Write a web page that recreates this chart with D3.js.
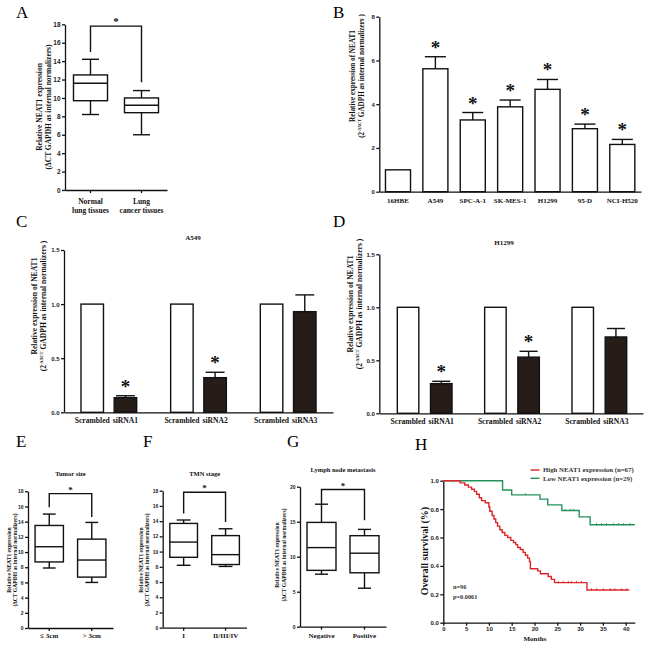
<!DOCTYPE html>
<html><head><meta charset="utf-8">
<script src="https://cdn.jsdelivr.net/npm/d3@7"></script>
<style>body{margin:0;background:#fff}</style>
</head><body>
<script>
// ================= DATA =================
// Panel A
const boxA_labels = [["Normal", "lung tissues"], ["Lung", "cancer tissues"]];
const boxA_stats = [[8.2, 9.7, 11.6, 12.5, 14.2], [6.0, 8.4, 9.2, 10.0, 10.8]]; // min,q1,med,q3,max
const boxA_bracket = [15.0, 17.8, 11.7];
const boxA_ticks = [0, 2, 4, 6, 8, 10, 12, 14, 16, 18];

// Panel B
const cellLines = ["16HBE", "A549", "SPC-A-1", "SK-MES-1", "H1299", "95-D", "NCI-H520"];
const cellMeans = [1.0, 5.62, 3.28, 3.88, 4.68, 2.88, 2.16];
const cellErrs = [0, 0.55, 0.34, 0.31, 0.45, 0.21, 0.23];
const cellStars = [0, 1, 1, 1, 1, 1, 1];
const cellTicks = [0, 2, 4, 6, 8];

// Panels C, D
const siGroups = ["1", "2", "3"];
const siScrLabel = "Scrambled";
const siLabels = ["siRNA1", "siRNA2", "siRNA3"];
const a549Scr = [1, 1, 1];
const a549Si = [0.135, 0.32, 0.93];
const a549SiErr = [0.018, 0.05, 0.155];
const a549Stars = [1, 1, 0];
const h1299Scr = [1, 1, 1];
const h1299Si = [0.28, 0.53, 0.72];
const h1299SiErr = [0.022, 0.055, 0.08];
const h1299Stars = [1, 1, 0];
const siTicks = [0, 0.5, 1.0, 1.5];

// Panel E
const tumorLabels = ["\u2264 3cm", "> 3cm"];
const tumorStats = [[7.9, 8.7, 10.7, 13.5, 15.0], [6.0, 6.7, 8.95, 11.7, 13.9]];
const tumorBracket = [15.9, 17.7, 14.6];
const tumorTicks = [0, 2, 4, 6, 8, 10, 12, 14, 16, 18];
// Panel F
const tmnLabels = ["I", "II/III/IV"];
const tmnStats = [[8.2, 9.25, 11.25, 13.7, 14.15], [8.05, 8.3, 9.6, 12.1, 13.0]];
const tmnBracket = [15.0, 17.8, 13.9];
const tmnTicks = [0, 2, 4, 6, 8, 10, 12, 14, 16, 18];
// Panel G
const lymphLabels = ["Negative", "Positive"];
const lymphStats = [[7.5, 8.05, 11.3, 14.9, 17.5], [5.5, 7.7, 10.5, 13.0, 13.9]];
const lymphBracket = [17.5, 19.6, 15.2];
const lymphTicks = [0, 5, 10, 15, 20];

// Panel H (Kaplan-Meier steps: time in months, survival after the step)
const highTimes = [0, 3.7, 4.7, 5.5, 6.2, 6.8, 7.3, 7.9, 8.4, 9.2, 10.0, 10.2, 10.7, 11.1, 11.5, 11.9, 12.4, 12.9, 13.5, 14.1, 14.8, 15.4, 15.9, 16.3, 16.9, 17.5, 18.0, 18.5, 18.9, 19.1, 20.7, 21.3, 23.0, 23.7, 24.4, 31.5, 40.8];
const highSurv  = [1, 0.985, 0.97, 0.955, 0.94, 0.925, 0.905, 0.88, 0.86, 0.845, 0.815, 0.785, 0.755, 0.73, 0.705, 0.68, 0.655, 0.635, 0.615, 0.60, 0.58, 0.565, 0.55, 0.53, 0.515, 0.495, 0.475, 0.455, 0.43, 0.38, 0.365, 0.345, 0.325, 0.305, 0.282, 0.23, 0.23];
const highCensor = [25.2, 26.3, 27.4, 28.1, 29.2, 30.3, 32.5, 33.6, 35.1, 36.6, 37.6, 39.1, 40.2];
const lowTimes = [0, 13.0, 15.0, 21.2, 22.9, 26.0, 29.8, 32.2, 42.0];
const lowSurv  = [1, 0.935, 0.90, 0.87, 0.83, 0.79, 0.745, 0.69, 0.69];
const lowCensor = [18.0, 26.7, 27.8, 28.5, 33.6, 34.7, 35.8, 37.3, 38.4, 39.5, 40.9];
const kmTicksX = [0, 5, 10, 15, 20, 25, 30, 35, 40];
const kmTicksY = [0, 0.2, 0.4, 0.6, 0.8, 1.0];
const kmLegend = ["High NEAT1 expression (n=67)", "Low NEAT1 expression (n=29)"];
const kmColors = ["#d9262a", "#23925a"];

// ================= DRAWING =================
const SERIF = "'Liberation Serif','Times New Roman',serif";
const SANS = "'Liberation Sans',Arial,sans-serif";
const svg = d3.select("body").append("svg").attr("width", 648).attr("height", 648)
  .style("background", "#fff");

function txt(g, x, y, s, o = {}) {
  const t = g.append("text").attr("x", x).attr("y", y).text(s)
    .attr("font-family", o.family || SERIF)
    .attr("font-size", o.size || 8)
    .attr("font-weight", o.weight || "bold")
    .attr("text-anchor", o.anchor || "middle")
    .attr("fill", o.fill || "#111");
  if (o.rotate) t.attr("transform", `rotate(${o.rotate},${x},${y})`);
  return t;
}

function yAxis(g, scale, x, ticks, fmt, size) {
  const ax = d3.axisLeft(scale).tickValues(ticks).tickFormat(fmt).tickSize(3).tickSizeOuter(0).tickPadding(1.5);
  const a = g.append("g").attr("transform", `translate(${x},0)`).call(ax);
  a.selectAll("path,line").attr("stroke", "#111").attr("stroke-width", 1.3);
  a.selectAll("text").attr("font-family", SANS).attr("font-weight", "bold").attr("font-size", size).attr("fill", "#222");
  return a;
}
function xAxis(g, scale, y, tickLen) {
  const ax = d3.axisBottom(scale).tickSize(tickLen).tickSizeOuter(0).tickFormat("");
  const a = g.append("g").attr("transform", `translate(0,${y})`).call(ax);
  a.selectAll("path,line").attr("stroke", "#111").attr("stroke-width", 1.3);
  return a;
}

function panelLetter(x, y, s) {
  txt(svg, x, y, s, { size: 17, weight: "normal", anchor: "start", fill: "#000" });
}

function twoLineYLabel(g, x1, x2, yc, l1, l2, size, superscript) {
  txt(g, x1, yc, l1, { size, rotate: -90 });
  if (!superscript) {
    txt(g, x2, yc, l2, { size, rotate: -90 });
  } else {
    const t = g.append("text").attr("x", x2).attr("y", yc)
      .attr("font-family", SERIF).attr("font-weight", "bold").attr("font-size", size)
      .attr("text-anchor", "middle").attr("fill", "#111")
      .attr("transform", `rotate(-90,${x2},${yc})`);
    t.append("tspan").text("(2");
    t.append("tspan").text("-\u0394\u0394CT").attr("font-size", size * 0.6).attr("dy", -size * 0.4);
    t.append("tspan").text(l2).attr("dy", size * 0.4);
  }
}

// ---------- Box plot panels ----------
function boxPanel(o) {
  const g = svg.append("g");
  const y = d3.scaleLinear([0, o.yMax], [o.y0, o.y1]);
  const x = d3.scaleBand().domain(d3.range(o.stats.length)).range(o.xr)
    .paddingInner(o.pad).paddingOuter(o.pad / 2);
  const bw = x.bandwidth();
  yAxis(g, y, o.xr[0], o.ticks, d3.format("d"), o.tickSize);
  xAxis(g, x, o.y0, 3);
  o.stats.forEach((s, i) => {
    const cx = x(i) + bw / 2;
    const cap = bw * o.capFrac / 2;
    const st = { stroke: "#111", sw: 1.4 };
    const line = (x1, y1, x2, y2) => g.append("line").attr("x1", x1).attr("y1", y1).attr("x2", x2).attr("y2", y2)
      .attr("stroke", st.stroke).attr("stroke-width", st.sw);
    line(cx, y(s[0]), cx, y(s[1]));
    line(cx, y(s[3]), cx, y(s[4]));
    line(cx - cap, y(s[0]), cx + cap, y(s[0]));
    line(cx - cap, y(s[4]), cx + cap, y(s[4]));
    g.append("rect").attr("x", x(i)).attr("y", y(s[3])).attr("width", bw).attr("height", y(s[1]) - y(s[3]))
      .attr("fill", "#fff").attr("stroke", "#111").attr("stroke-width", 1.4);
    line(x(i), y(s[2]), x(i) + bw, y(s[2]));
    o.labels[i].forEach((l, k) => txt(g, cx, o.labelY + k * o.labelSize * 1.25, l, { size: o.labelSize }));
  });
  const c0 = x(0) + bw / 2, c1 = x(1) + bw / 2;
  g.append("path").attr("d", `M${c0},${y(o.bracket[0])}V${y(o.bracket[1])}H${c1}V${y(o.bracket[2])}`)
    .attr("fill", "none").attr("stroke", "#111").attr("stroke-width", 1.4);
  txt(g, (c0 + c1) / 2, y(o.bracket[1]) - o.starGap, "*", { size: o.starSize });
  if (o.title) txt(g, (o.xr[0] + o.xr[1]) / 2, o.titleY, o.title, { size: o.titleSize });
  twoLineYLabel(g, o.ylx[0], o.ylx[1], o.ylc, "Relative NEAT1 expression", "(\u0394CT GAPDH as internal normalizers)", o.ylSize);
}

// A
panelLetter(16, 18, "A");
boxPanel({ stats: boxA_stats, labels: boxA_labels, bracket: boxA_bracket, ticks: boxA_ticks, yMax: 18,
  y0: 190, y1: 24.3, xr: [65, 167], pad: 0.333, capFrac: 0.5, tickSize: 6.5,
  labelY: 204, labelSize: 7.5, starSize: 11, starGap: 1.5, ylx: [42, 51], ylc: 107, ylSize: 7.5 });

// E
panelLetter(16, 447, "E");
boxPanel({ stats: tumorStats, labels: tumorLabels.map(d => [d]), bracket: tumorBracket, ticks: tumorTicks, yMax: 18,
  y0: 628, y1: 491.3, xr: [28, 113], pad: 0.333, capFrac: 0.45, tickSize: 5,
  labelY: 638, labelSize: 7, starSize: 9, starGap: 1, title: "Tumor size", titleY: 476, titleSize: 6.5,
  ylx: [11, 17], ylc: 560, ylSize: 5.6 });

// F
panelLetter(143, 447, "F");
boxPanel({ stats: tmnStats, labels: tmnLabels.map(d => [d]), bracket: tmnBracket, ticks: tmnTicks, yMax: 18,
  y0: 627.7, y1: 490.7, xr: [162.7, 246.5], pad: 0.34, capFrac: 0.5, tickSize: 5,
  labelY: 638, labelSize: 7, starSize: 9, starGap: 1, title: "TMN stage", titleY: 476, titleSize: 6.5,
  ylx: [143, 149], ylc: 560, ylSize: 5.6 });

// G
panelLetter(287, 447, "G");
boxPanel({ stats: lymphStats, labels: lymphLabels.map(d => [d]), bracket: lymphBracket, ticks: lymphTicks, yMax: 20,
  y0: 626.7, y1: 486.7, xr: [300, 386], pad: 0.326, capFrac: 0.45, tickSize: 5,
  labelY: 638, labelSize: 7, starSize: 9, starGap: 1, title: "Lymph node metastasis", titleY: 472, titleSize: 6.5,
  ylx: [279, 285.5], ylc: 555, ylSize: 5.6 });

// ---------- B ----------
(function () {
  panelLetter(333, 18, "B");
  const g = svg.append("g");
  const y = d3.scaleLinear([0, 8], [191.7, 16.7]);
  const x = d3.scaleBand().domain(cellLines).range([379.3, 641]).paddingInner(0.33).paddingOuter(0.165);
  const bw = x.bandwidth();
  yAxis(g, y, 379.3, cellTicks, d3.format("d"), 6);
  g.selectAll(".bar").data(cellLines).enter().append("rect")
    .attr("x", d => x(d)).attr("y", (d, i) => y(cellMeans[i])).attr("width", bw)
    .attr("height", (d, i) => y(0) - y(cellMeans[i]))
    .attr("fill", "#fff").attr("stroke", "#111").attr("stroke-width", 1.4);
  cellLines.forEach((c, i) => {
    const cx = x(c) + bw / 2;
    if (cellErrs[i] > 0) {
      const top = y(cellMeans[i] + cellErrs[i]);
      g.append("line").attr("x1", cx).attr("x2", cx).attr("y1", y(cellMeans[i])).attr("y2", top).attr("stroke", "#111").attr("stroke-width", 1.4);
      g.append("line").attr("x1", cx - bw * 0.42).attr("x2", cx + bw * 0.42).attr("y1", top).attr("y2", top).attr("stroke", "#111").attr("stroke-width", 1.4);
    }
    if (cellStars[i]) txt(g, cx, y(cellMeans[i] + cellErrs[i]) - 3, "*", { size: 19 });
    txt(g, cx, 203, c, { size: 7 });
  });
  xAxis(g, x, 191.7, 0);
  twoLineYLabel(g, 355, 364, 76, "Relative expression of NEAT1", " GADPH as internal normalizers )", 7.2, true);
})();

// ---------- C & D ----------
function siPanel(o) {
  const g = svg.append("g");
  const y = d3.scaleLinear([0, 1.5], [o.y0, o.y1]);
  const xg = d3.scaleBand().domain(siGroups).range(o.xr).padding(0);
  const half = o.off + o.barW / 2;
  const xi = d3.scaleBand().domain(["scr", "si"])
    .range([xg.bandwidth() / 2 - half, xg.bandwidth() / 2 + half])
    .paddingInner((2 * o.off - o.barW) / (2 * o.off)).paddingOuter(0);
  const bw = xi.bandwidth();
  yAxis(g, y, o.yAxisX, siTicks, d3.format(".1f"), 6);
  siGroups.forEach((grp, i) => {
    const xs = xg(grp) + xi("scr"), xsi = xg(grp) + xi("si");
    g.append("rect").attr("x", xs).attr("y", y(o.scr[i])).attr("width", bw).attr("height", y(0) - y(o.scr[i]))
      .attr("fill", "#fff").attr("stroke", "#111").attr("stroke-width", 1.4);
    const top = y(o.si[i] + o.err[i]);
    const cx = xsi + bw / 2;
    g.append("line").attr("x1", cx).attr("x2", cx).attr("y1", y(o.si[i])).attr("y2", top).attr("stroke", "#111").attr("stroke-width", 1.4);
    g.append("line").attr("x1", cx - bw * 0.42).attr("x2", cx + bw * 0.42).attr("y1", top).attr("y2", top).attr("stroke", "#111").attr("stroke-width", 1.4);
    g.append("rect").attr("x", xsi).attr("y", y(o.si[i])).attr("width", bw).attr("height", y(0) - y(o.si[i]))
      .attr("fill", "#261c18").attr("stroke", "#111").attr("stroke-width", 1.4);
    if (o.stars[i]) txt(g, cx, top - 3, "*", { size: 19 });
    txt(g, xs + bw / 2, o.y0 + 11, siScrLabel, { size: 7.6 });
    txt(g, cx, o.y0 + 11, siLabels[i], { size: 7.6 });
  });
  const ax = d3.axisBottom(d3.scaleLinear([0, 1], [o.yAxisX, o.xEnd])).tickValues([]).tickSizeOuter(0);
  g.append("g").attr("transform", `translate(0,${o.y0})`).call(ax).selectAll("path").attr("stroke", "#111").attr("stroke-width", 1.3);
  txt(g, o.titleX, o.titleY, o.title, { size: 7 });
  twoLineYLabel(g, o.ylx[0], o.ylx[1], o.ylc, "Relative expression of NEAT1", " GADPH as internal normalizers )", 7.6, true);
}
panelLetter(16, 227, "C");
siPanel({ y0: 412.3, y1: 250, xr: [64, 333], yAxisX: 64, xEnd: 333, barW: 22.5, off: 16.6,
  scr: a549Scr, si: a549Si, err: a549SiErr, stars: a549Stars, title: "A549", titleX: 193, titleY: 240,
  ylx: [37, 46], ylc: 306 });
panelLetter(333, 227, "D");
siPanel({ y0: 413.3, y1: 254.3, xr: [381, 643], yAxisX: 379.3, xEnd: 643, barW: 21.5, off: 16.6,
  scr: h1299Scr, si: h1299Si, err: h1299SiErr, stars: h1299Stars, title: "H1299", titleX: 504, titleY: 245,
  ylx: [353, 362], ylc: 304 });

// ---------- H ----------
(function () {
  panelLetter(415, 450, "H");
  const g = svg.append("g");
  const x = d3.scaleLinear([0, 40], [443.3, 625.7]);
  const y = d3.scaleLinear([0, 1], [622.7, 480.7]);
  const axY = d3.axisLeft(y).tickValues(kmTicksY).tickFormat(d3.format(".1f")).tickSize(3).tickSizeOuter(0).tickPadding(1.5);
  const ay = g.append("g").attr("transform", `translate(${x(0)},0)`).call(axY);
  const axX = d3.axisBottom(d3.scaleLinear([0, 42], [443.3, x(42)])).tickValues(kmTicksX).tickSize(3).tickSizeOuter(0).tickPadding(1);
  const ax = g.append("g").attr("transform", `translate(0,${y(0)})`).call(axX);
  [ay, ax].forEach(a => {
    a.selectAll("path,line").attr("stroke", "#111").attr("stroke-width", 1.3);
    a.selectAll("text").attr("font-family", SANS).attr("font-weight", "bold").attr("font-size", 6).attr("fill", "#222");
  });
  const line = d3.line().x(d => x(d[0])).y(d => y(d[1])).curve(d3.curveStepAfter);
  const series = [[lowTimes, lowSurv, lowCensor], [highTimes, highSurv, highCensor]];
  const colors = [kmColors[1], kmColors[0]];
  series.forEach(([t, s, c], k) => {
    const pts = t.map((d, i) => [d, s[i]]);
    g.append("path").attr("d", line(pts)).attr("fill", "none").attr("stroke", colors[k]).attr("stroke-width", 1.4);
    c.forEach(ct => {
      let v = s[0];
      t.forEach((tt, i) => { if (tt <= ct) v = s[i]; });
      g.append("line").attr("x1", x(ct)).attr("x2", x(ct)).attr("y1", y(v) - 1.8).attr("y2", y(v) + 0.5)
        .attr("stroke", colors[k]).attr("stroke-width", 0.8);
    });
  });
  // legend
  kmLegend.forEach((l, i) => {
    const ly = 470 + i * 8.3;
    g.append("line").attr("x1", 530.5).attr("x2", 539.5).attr("y1", ly).attr("y2", ly).attr("stroke", kmColors[i]).attr("stroke-width", 1.4);
    txt(g, 543, ly + 2.4, l, { size: 6.8, anchor: "start", fill: "#333" });
  });
  txt(g, 453, 589, "n=96", { size: 6.3, anchor: "start", fill: "#333" });
  txt(g, 453, 598.5, "p=0.0061", { size: 6.3, anchor: "start", fill: "#333" });
  txt(g, 535, 641, "Months", { size: 7 });
  txt(g, 428, 551, "Overall survival (%)", { size: 10, rotate: -90 });
})();
</script>
</body></html>
